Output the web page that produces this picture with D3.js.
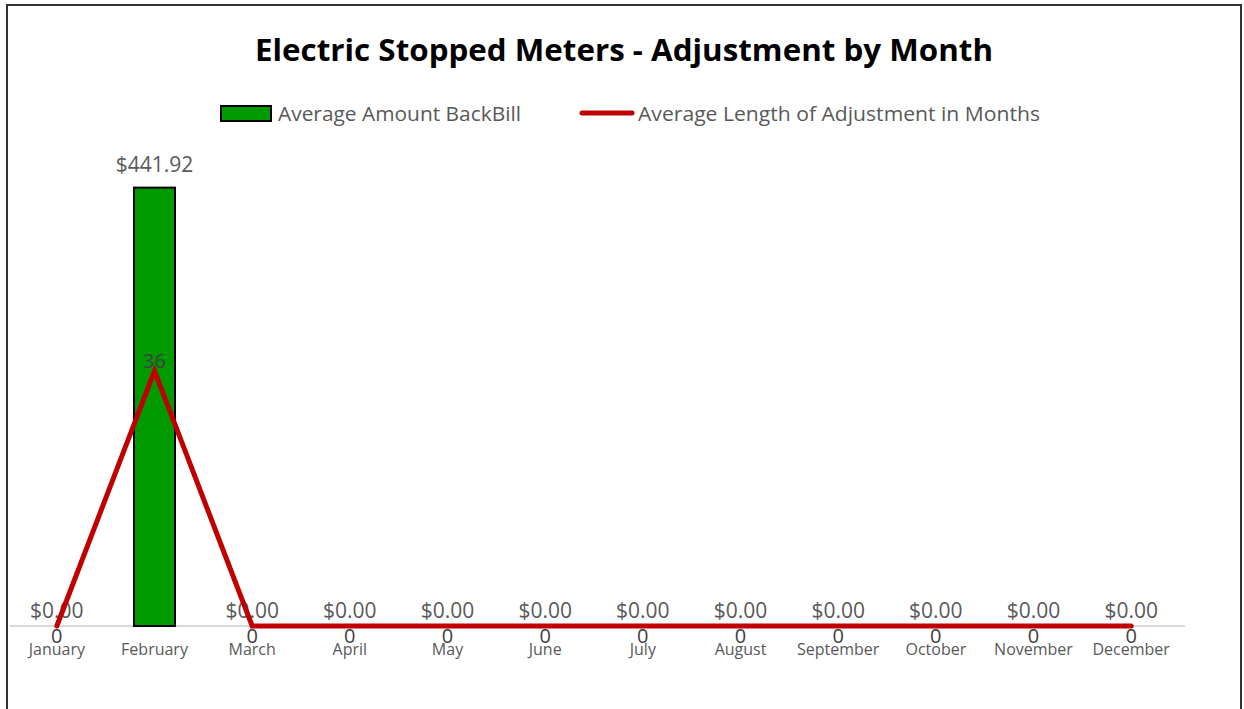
<!DOCTYPE html>
<html><head><meta charset="utf-8">
<script src="https://cdn.jsdelivr.net/npm/d3@7"></script>
<style>body{margin:0;background:#fff}svg{display:block}</style>
</head><body>
<script>
const months = ["January","February","March","April","May","June","July","August","September","October","November","December"];
const backBill = [0, 441.92, 0, 0, 0, 0, 0, 0, 0, 0, 0, 0];
const adjMonths = [0, 36, 0, 0, 0, 0, 0, 0, 0, 0, 0, 0];
const seriesNames = ["Average Amount BackBill", "Average Length of Adjustment in Months"];
const title = "Electric Stopped Meters - Adjustment by Month";

const W = 1244, H = 709;
const svg = d3.select("body").append("svg").attr("width", W).attr("height", H);
const font = "'Open Sans', sans-serif";

// frame
svg.append("rect").attr("x", 7).attr("y", 5).attr("width", 1234).attr("height", 720)
  .attr("fill", "none").attr("stroke", "#333").attr("stroke-width", 2);

const x = d3.scaleBand().domain(months).range([8, 1180]).paddingInner(0.58).paddingOuter(0.29);
const y = d3.scaleLinear().domain([0, 500]).range([626, 130]);
const y2 = d3.scaleLinear().domain([0, 70]).range([626, 130]);
const cx = m => x(m) + x.bandwidth() / 2;

// title
svg.append("text").attr("x", 624).attr("y", 61).attr("text-anchor", "middle")
  .attr("font-family", font).attr("font-weight", "bold").attr("font-size", 30)
  .attr("fill", "#000").attr("textLength", 738).attr("lengthAdjust", "spacingAndGlyphs").text(title);

// legend
const lg = svg.append("g");
lg.append("rect").attr("x", 221).attr("y", 106).attr("width", 50).attr("height", 15)
  .attr("fill", "#009900").attr("stroke", "#000").attr("stroke-width", 2);
lg.append("text").attr("x", 278).attr("y", 121).attr("font-family", font)
  .attr("font-size", 20).attr("fill", "#595959").attr("textLength", 243).attr("lengthAdjust", "spacingAndGlyphs").text(seriesNames[0]);
lg.append("line").attr("x1", 582).attr("x2", 632).attr("y1", 113).attr("y2", 113)
  .attr("stroke", "#C00000").attr("stroke-width", 5).attr("stroke-linecap", "round");
lg.append("text").attr("x", 638).attr("y", 121).attr("font-family", font)
  .attr("font-size", 20).attr("fill", "#595959").attr("textLength", 402).attr("lengthAdjust", "spacingAndGlyphs").text(seriesNames[1]);

// axis
const xAxis = d3.axisBottom(x).tickSize(0).tickPadding(18);
const ax = svg.append("g").attr("transform", "translate(0,626)").call(xAxis);
ax.select(".domain").attr("stroke", "#d9d9d9").attr("stroke-width", 2).attr("d", "M10,0H1185");
ax.selectAll("text").attr("font-family", font).attr("font-size", 16).attr("fill", "#595959")
  .attr("dy", "0.71em").attr("y", 18);

// bars
svg.selectAll("rect.bar").data(months).join("rect").attr("class", "bar")
  .attr("x", m => x(m)).attr("width", x.bandwidth())
  .attr("y", (m, i) => y(backBill[i])).attr("height", (m, i) => y(0) - y(backBill[i]))
  .attr("fill", "#009900").attr("stroke", "#000").attr("stroke-width", (m, i) => backBill[i] > 0 ? 2 : 0);

// bar labels
svg.selectAll("text.bl").data(months).join("text").attr("class", "bl")
  .attr("x", m => cx(m)).attr("y", (m, i) => y(backBill[i]) - (backBill[i] > 0 ? 16 : 8))
  .attr("text-anchor", "middle").attr("font-family", font).attr("font-size", 21).attr("fill", "#595959")
  .text((m, i) => "$" + d3.format(",.2f")(backBill[i]));

// line
const line = d3.line().x((d, i) => cx(months[i])).y(d => y2(d));
svg.append("path").datum(adjMonths).attr("d", line).attr("fill", "none")
  .attr("stroke", "#C00000").attr("stroke-width", 5).attr("stroke-linejoin", "miter").attr("stroke-linecap", "round");

// line labels
svg.selectAll("text.ll").data(months).join("text").attr("class", "ll")
  .attr("x", m => cx(m))
  .attr("y", (m, i) => adjMonths[i] > 0 ? y2(adjMonths[i]) - 3 : y2(adjMonths[i]) + 17)
  .attr("text-anchor", "middle").attr("font-family", font).attr("font-size", 20).attr("fill", "#404040")
  .text((m, i) => adjMonths[i]);
</script>
</body></html>
